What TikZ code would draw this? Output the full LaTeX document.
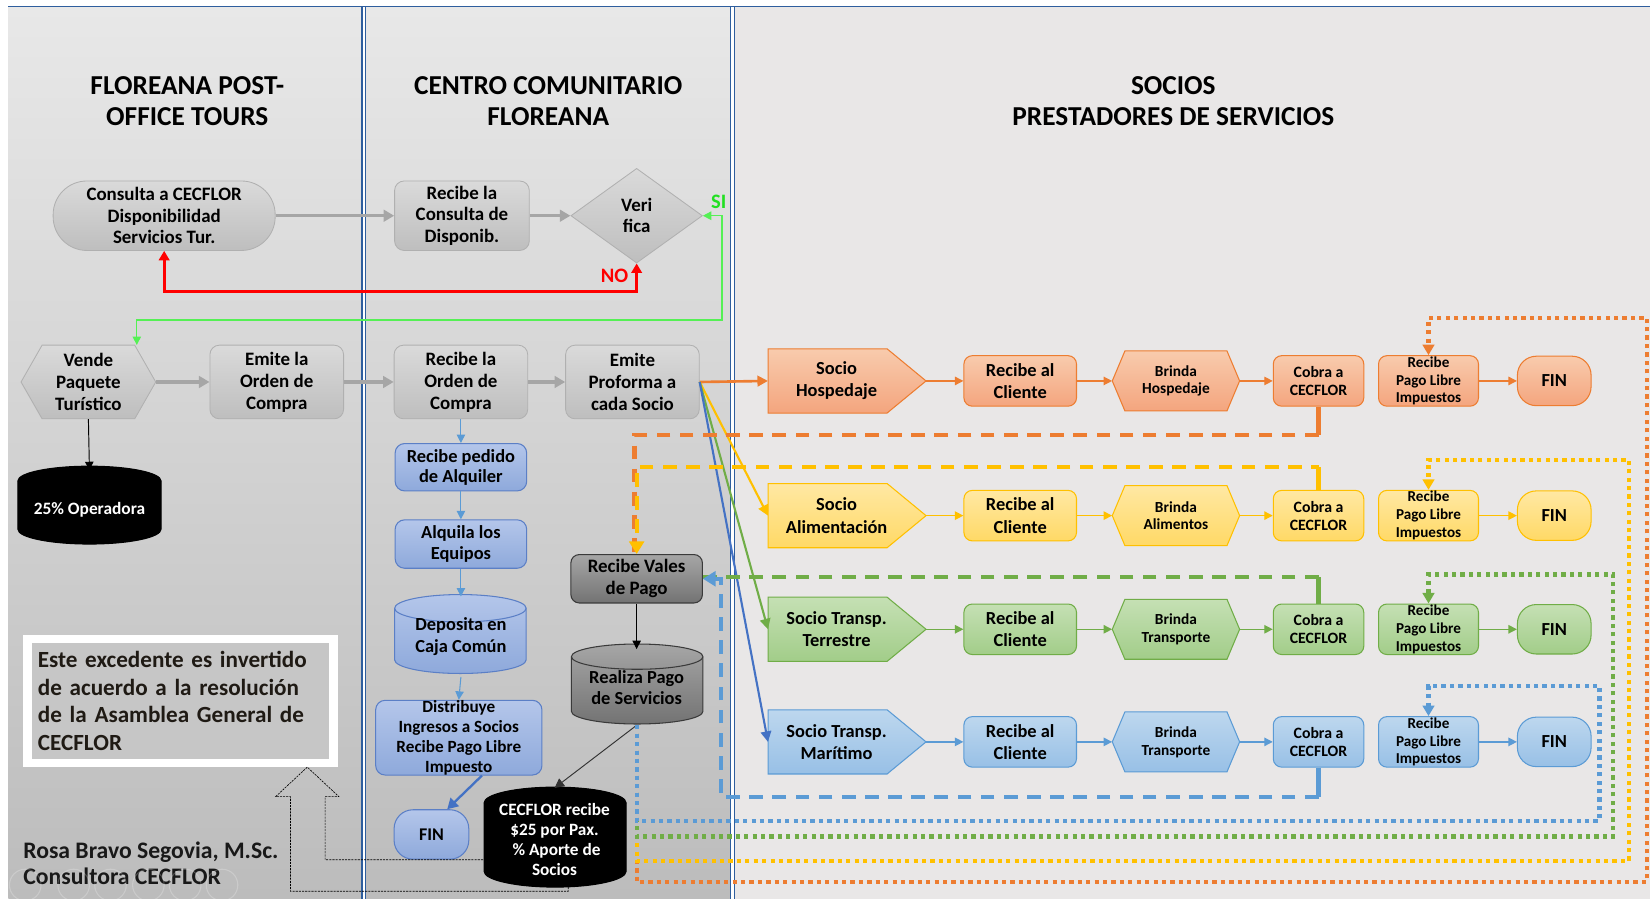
\documentclass[tikz,border=0pt]{standalone}
\usepackage{fontspec}
\setmainfont{Carlito}
\usetikzlibrary{shapes.geometric,arrows.meta,calc}
\pgfdeclarelayer{bg}
\pgfdeclarelayer{shp}
\pgfsetlayers{bg,shp,main}
\newcommand\fs[2]{\fontsize{#1}{#2}\selectfont\bfseries}
\definecolor{laneA}{HTML}{E8E8E8}
\definecolor{laneM}{HTML}{E0E0E0}
\definecolor{laneB}{HTML}{BCBCBC}
\definecolor{laneC}{HTML}{E9E7E7}
\definecolor{laneline}{HTML}{2E5E9E}
\definecolor{gT}{HTML}{DADADA}
\definecolor{gD}{HTML}{BEBEBE}
\definecolor{gB}{HTML}{B0B0B0}
\definecolor{garrow}{HTML}{A6A6A6}
\definecolor{bT}{HTML}{B4C6EA}
\definecolor{bD}{HTML}{8EA9DB}
\definecolor{bB}{HTML}{5B7FC6}
\definecolor{barrow}{HTML}{5B9BD5}
\definecolor{dT}{HTML}{A6A6A6}
\definecolor{dD}{HTML}{737373}
\definecolor{dB}{HTML}{3A3A3A}
\definecolor{orT}{HTML}{F8CBAD}
\definecolor{orD}{HTML}{F4A57E}
\definecolor{orB}{HTML}{ED7D31}
\definecolor{yeT}{HTML}{FFE8A3}
\definecolor{yeD}{HTML}{FFD966}
\definecolor{yeB}{HTML}{FFC000}
\definecolor{grT}{HTML}{C5E0B4}
\definecolor{grD}{HTML}{A2CD89}
\definecolor{grB}{HTML}{70AD47}
\definecolor{blT}{HTML}{BDD7EE}
\definecolor{blD}{HTML}{98C0E6}
\definecolor{blB}{HTML}{5B9BD5}
\definecolor{blline}{HTML}{4472C4}
\definecolor{nored}{HTML}{FF0000}
\definecolor{sitext}{HTML}{22E022}
\definecolor{siline}{HTML}{55F055}
\definecolor{notegray}{HTML}{C6C6C6}
\definecolor{notetext}{HTML}{1F1A14}

\tikzset{
 txt/.style={align=center, inner sep=0pt, text=black},
 title/.style={txt, font={\fs{26}{30}}},
 gbox/.style={txt, rectangle, rounded corners=9pt, draw=gB, line width=0.8pt, top color=gT, bottom color=gD, font={\fs{18}{20.5}}},
 gdiam/.style={txt, diamond, draw=gB, line width=0.8pt, top color=gT, bottom color=gD, font={\fs{18}{20}}, minimum width=125pt, minimum height=90pt},
 gpoly/.style={draw=gB, line width=0.8pt, top color=gT, bottom color=gD},
 shapetxt/.style={txt, rectangle, draw=none, fill=none},
 bbox/.style={txt, rectangle, rounded corners=9pt, draw=bB, line width=1pt, top color=bT, bottom color=bD, font={\fs{17.5}{19}}},
 bpoly/.style={draw=bB, line width=1pt, top color=bT, bottom color=bD},
 dbox/.style={txt, rectangle, rounded corners=8pt, draw=dB, line width=1pt, top color=dT, bottom color=dD, font={\fs{18}{21}}},
 dpoly/.style={draw=dB, line width=1pt, top color=dT, bottom color=dD},
 kpoly/.style={fill=black, draw=black, line width=1pt},
 rbox/.style={txt, rectangle, rounded corners=8pt, draw=#1B, top color=#1T, bottom color=#1D, line width=1pt},
 poly/.style={draw=#1B, top color=#1T, bottom color=#1D, line width=1pt},
 rarr/.style={draw=#1B, line width=1.2pt, -{Triangle[length=8pt,width=8pt]}},
 garr/.style={draw=garrow, line width=3pt, -{Triangle[length=10pt,width=11pt]}},
 karr/.style={draw=black, line width=0.9pt, -{Triangle[length=8pt,width=8pt]}},
 barr/.style={draw=barrow, line width=1pt, -{Triangle[length=8pt,width=8pt]}},
 barrb/.style={draw=blline, line width=2.2pt, -{Triangle[length=10pt,width=11pt]}},
 redarr/.style={draw=nored, line width=3pt, {Triangle[length=9pt,width=10pt]}-{Triangle[length=9pt,width=10pt]}},
 siarr/.style={draw=siline, line width=1.3pt, {Triangle[length=8pt,width=8pt]}-{Triangle[length=8pt,width=8pt]}},
 dashsty/.style={draw=#1, line width=4pt, dash pattern=on 13pt off 9pt},
 solsty/.style={draw=#1, line width=4pt},
 dotsty/.style={draw=#1, line width=4pt, dash pattern=on 4pt off 4pt},
}

\newcommand\hexshape[6]{\begin{pgfonlayer}{shp}\path[#1] ({#2-#4/2},{#3}) -- ({#2-#4/2+#6},{#3-#5/2}) -- ({#2+#4/2-#6},{#3-#5/2}) -- ({#2+#4/2},{#3}) -- ({#2+#4/2-#6},{#3+#5/2}) -- ({#2-#4/2+#6},{#3+#5/2}) -- cycle;\end{pgfonlayer}}
\newcommand\pentshape[6]{\begin{pgfonlayer}{shp}\path[#1] ({#2},{#3-#5/2}) -- ({#4-#6},{#3-#5/2}) -- ({#4},{#3}) -- ({#4-#6},{#3+#5/2}) -- ({#2},{#3+#5/2}) -- cycle;\end{pgfonlayer}}
\newcommand\drawcyl[7]{%
 \pgfmathsetmacro\cylrx{(#4-#2)/2}%
 \begin{pgfonlayer}{shp}
 \path[#1] ({#2},{#3+#6}) -- ({#2},{#5-#6}) arc[start angle=180,end angle=360,x radius=\cylrx pt,y radius=#6pt] -- ({#4},{#3+#6}) arc[start angle=0,end angle=180,x radius=\cylrx pt,y radius=#6pt] -- cycle;
 \draw[#7] ({#2},{#3+#6}) arc[start angle=180,end angle=360,x radius=\cylrx pt,y radius=#6pt];
 \end{pgfonlayer}}

\newcommand\lanerow[5]{%
 \pentshape{poly=#3}{730}{#2}{880}{61}{37}
 \node[shapetxt, minimum width=130pt, minimum height=61pt, font={\fs{17.5}{21}}] (socio#1) at (795,#2) {#4};
 \node[rbox=#3, minimum width=107pt, minimum height=48pt, font={\fs{17.5}{21}}] (recl#1) at (969.5,#2) {Recibe al\\Cliente};
 \hexshape{poly=#3}{1117.5}{#2}{121}{57}{12}
 \node[shapetxt, minimum width=121pt, minimum height=57pt, font={\fs{14.6}{17}}] (brinda#1) at (1117.5,#2) {#5};
 \node[rbox=#3, minimum width=86pt, minimum height=48pt, font={\fs{15}{17}}] (cobra#1) at (1253,#2) {Cobra a\\CECFLOR};
 \node[rbox=#3, minimum width=95pt, minimum height=48pt, font={\fs{14.4}{17}}] (pago#1) at (1357.5,#2) {Recibe\\Pago Libre\\Impuestos};
 \node[rbox=#3, rounded corners=18pt, minimum width=70pt, minimum height=47pt, font={\fs{17.5}{20}}] (fin#1) at (1477,#2) {FIN};
 \draw[rarr=#3] ([xshift=20pt]socio#1.east) -- (recl#1.west);
 \draw[rarr=#3] (recl#1.east) -- (brinda#1.west);
 \draw[rarr=#3] (brinda#1.east) -- (cobra#1.west);
 \draw[rarr=#3] (pago#1.east) -- (fin#1.west);
}

\begin{document}
\begin{tikzpicture}[x=1pt,y=-1pt]
\useasboundingbox (0,0) rectangle (1568,854);
\begin{pgfonlayer}{bg}
 \fill[white] (0,0) rectangle (1568,854);
 \shade[top color=laneA, middle color=laneM, bottom color=laneB] (8,6) rectangle (344,854);
 \shade[top color=laneA, middle color=laneM, bottom color=laneB] (347,6) rectangle (694,854);
 \fill[laneC] (698,6) rectangle (1568,854);
 \draw[laneline, line width=1pt] (8,6) -- (1568,6);
 \foreach \lx in {344,347,694,698} \draw[laneline, line width=1.1pt] (\lx,6) -- (\lx,854);
\end{pgfonlayer}

% titles
\node[title] (t1) at (178,96) {FLOREANA POST-\\OFFICE TOURS};
\node[title] (t2) at (521,96) {CENTRO COMUNITARIO\\FLOREANA};
\node[title] (t3) at (1115,96) {SOCIOS\\PRESTADORES DE SERVICIOS};

% row 1
\node[gbox, rounded corners=32pt, minimum width=211pt, minimum height=66pt] (consulta) at (156,205) {Consulta a CECFLOR\\Disponibilidad\\Servicios Tur.};
\node[gbox, minimum width=128pt, minimum height=66pt] (recibeC) at (439,205) {Recibe la\\Consulta de\\Disponib.};
\node[gdiam] (verif) at (605,205) {Veri\\fica};
\draw[garr] (consulta.east) -- (recibeC.west);
\draw[garr] (recibeC.east) -- (verif.west);
\draw[redarr] (consulta.south) -- ++(0,39) -| (verif.south);
\node[txt, text=nored, font={\fs{19.5}{20}}] (nolab) at (584,262) {NO};

% row 2
\hexshape{gpoly}{84}{363}{128}{70}{20}
\node[shapetxt, minimum width=128pt, minimum height=70pt, font={\fs{18}{21}}] (vende) at (84,363) {Vende\\Paquete\\Turístico};
\node[gbox, minimum width=127pt, minimum height=70pt, font={\fs{18}{21}}] (emiteO) at (263,363) {Emite la\\Orden de\\Compra};
\node[gbox, minimum width=127pt, minimum height=70pt, font={\fs{18}{21}}] (recibeO) at (438,363) {Recibe la\\Orden de\\Compra};
\node[gbox, minimum width=127pt, minimum height=70pt, font={\fs{18}{21}}] (proforma) at (601,363) {Emite\\Proforma a\\cada Socio};
\draw[garr] (vende.east) -- (emiteO.west);
\draw[garr] (emiteO.east) -- (recibeO.west);
\draw[garr] (recibeO.east) -- (proforma.west);

\coordinate (sic) at (686,304);
\draw[siarr] ([xshift=46pt]vende.north) |- (sic) |- (verif.east);
\node[txt, text=sitext, font={\fs{19.5}{20}}] (silab) at (683,192) {SI};

% operadora
\drawcyl{kpoly}{17}{443}{153}{517}{14}{draw=black}
\node[shapetxt, text=white, minimum width=136pt, minimum height=74pt, font={\fs{16.5}{18}}] (oper) at (85,484) {25\% Operadora};
\draw[karr] (vende.south) -- (oper.north);

% lane 2 blue column
\node[bbox, minimum width=125pt, minimum height=45pt] (pedido) at (438,444) {Recibe pedido\\de Alquiler};
\node[bbox, minimum width=125pt, minimum height=46pt, font={\fs{17.5}{20}}] (alquila) at (438,517) {Alquila los\\Equipos};
\drawcyl{bpoly}{375}{565}{500}{640}{13}{draw=bB, line width=1pt}
\node[shapetxt, minimum width=125pt, minimum height=76pt, font={\fs{17.5}{21}}] (deposita) at (438,605) {Deposita en\\Caja Común};
\node[bbox, minimum width=158pt, minimum height=70pt, font={\fs{16.3}{19}}] (distrib) at (436,701) {Distribuye\\Ingresos a Socios\\Recibe Pago Libre\\Impuesto};
\node[bbox, rounded corners=18pt, minimum width=71pt, minimum height=47pt, font={\fs{17}{19}}] (fin2) at (410,793) {FIN};
\draw[barr] (recibeO.south) -- (pedido.north);
\draw[barr] (pedido.south) -- (alquila.north);
\draw[barr] (alquila.south) -- (deposita.north);
\draw[barr] (deposita.south) -- (distrib.north);
\draw[barrb] ([xshift=22pt]distrib.south) -- ([xshift=15pt]fin2.north);

% dark column
\node[dbox, minimum width=125pt, minimum height=46pt] (vales) at (605,550) {Recibe Vales\\de Pago};
\drawcyl{dpoly}{543}{612}{668}{688}{12}{draw=dB, line width=1pt}
\node[shapetxt, minimum width=125pt, minimum height=72pt, font={\fs{17.5}{20}}] (realiza) at (605,653) {Realiza Pago\\de Servicios};
\draw[karr] (vales.south) -- (realiza.north);
\drawcyl{kpoly}{460}{748}{595}{843}{15}{draw=black}
\node[shapetxt, text=white, minimum width=135pt, minimum height=98pt, font={\fs{16.4}{19}}] (cecflor) at (527,798) {CECFLOR recibe\\\$25 por Pax.\\\ \% Aporte de\\Socios};
\draw[draw=black!80, line width=0.9pt, -{Triangle[length=9pt,width=9pt]}] (realiza.south) -- (cecflor.north);

% lane 3 rows
\lanerow{H}{362}{or}{Socio\\Hospedaje}{Brinda\\Hospedaje}
\lanerow{A}{490}{ye}{Socio\\Alimentación}{Brinda\\Alimentos}
\lanerow{T}{598}{gr}{Socio Transp.\\Terrestre}{Brinda\\Transporte}
\lanerow{M}{705}{bl}{Socio Transp.\\Marítimo}{Brinda\\Transporte}

% proforma to socios
\draw[draw=orB, line width=2.5pt, -{Triangle[length=10pt,width=10pt]}] (proforma.east) -- (socioH.west);
\draw[draw=yeB, line width=2pt, -{Triangle[length=10pt,width=10pt]}] (proforma.east) -- (socioA.west);
\draw[draw=grB, line width=2pt, -{Triangle[length=10pt,width=10pt]}] (proforma.east) -- (socioT.west);
\draw[draw=blline, line width=2pt, -{Triangle[length=10pt,width=10pt]}] (proforma.east) -- (socioM.west);

% dotted lines from Realiza Pago to Recibe Pago Libre
\coordinate (od1) at (1565,838); \coordinate (od2) at (1565,302);
\coordinate (yd1) at (1548,818); \coordinate (yd2) at (1548,437);
\coordinate (gd1) at (1533,795); \coordinate (gd2) at (1533,546);
\coordinate (bd1) at (1520,780); \coordinate (bd2) at (1520,652);
\draw[dotsty=orB, -{Triangle[length=10pt,width=11pt]}] (realiza.south) |- (od1) -- (od2) -| (pagoH.north);
\draw[dotsty=yeB, -{Triangle[length=10pt,width=11pt]}] (realiza.south) |- (yd1) -- (yd2) -| (pagoA.north);
\draw[dotsty=grB, -{Triangle[length=10pt,width=11pt]}] (realiza.south) |- (gd1) -- (gd2) -| (pagoT.north);
\draw[dotsty=blB, -{Triangle[length=10pt,width=11pt]}] (realiza.south) |- (bd1) -- (bd2) -| (pagoM.north);

% dashed lines from Cobra to Recibe Vales
\draw[solsty=orB] (cobraH.south) -- ++(0,27) coordinate (oc);
\draw[dashsty=orB] (oc) -| ([xshift=-2pt]vales.north);
\draw[solsty=yeB] (cobraA.north) -- ++(0,-22) coordinate (yc);
\draw[dashsty=yeB, dash phase=6pt, -{Triangle[length=12pt,width=14pt]}] (yc) -| (vales.north);
\draw[solsty=grB] (cobraT.north) -- ++(0,-25) coordinate (gc);
\draw[dashsty=grB] (gc) -- (gc -| vales.east);
\draw[solsty=blB] (cobraM.south) -- ++(0,28) coordinate (bc);
\draw[dashsty=blB, -{Triangle[length=12pt,width=14pt]}] (bc) -| ($(vales.east)+(17,0)$) -- (vales.east);

% note box
\node[rectangle, fill=notegray, draw=white, line width=8pt, minimum width=291pt, minimum height=118pt, inner xsep=10pt, text width=271pt, align=left, text=notetext, font={\fs{22}{26.3}}] (note) at (171.5,666) {Este excedente es invertido\\de acuerdo a la resolución\\de la Asamblea General de\\CECFLOR};

% outlined block arrow from CECFLOR cylinder to note
\draw[black, line width=0.6pt, dash pattern=on 2pt off 1pt] (540,843) -- (540,847) -- (276,847) -- (276,757) -- (262,757) -- (292,729) -- (322,757) -- (309,757) -- (309,817) -- (460,817);

% author
\node[anchor=west, align=left, inner sep=0pt, text=black!90, font={\fs{22.5}{25}}] (author) at (22,820.5) {Rosa Bravo Segovia, M.Sc.\\Consultora CECFLOR};
\foreach \cx in {24,70,105,141,176,211} \draw[white, opacity=0.22, line width=1pt] (\cx,841) circle[radius=15pt];
\end{tikzpicture}
\end{document}
